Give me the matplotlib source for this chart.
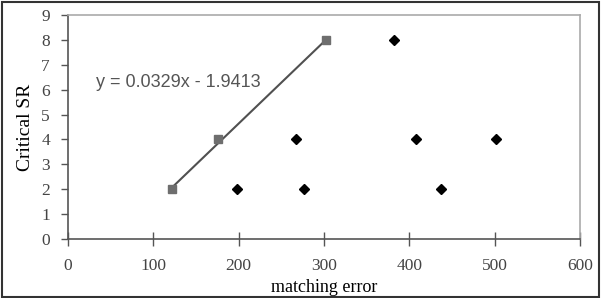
import matplotlib
matplotlib.use('Agg')
import matplotlib.pyplot as plt
from matplotlib.patches import Rectangle

# trend series (squares)
fit_x = [122, 176, 302]
fit_y = [2, 4, 8]
# other points (diamonds)
other_x = [198, 267, 276, 382, 408, 437, 501]
other_y = [2, 4, 2, 8, 4, 2, 4]

slope = 0.0329
intercept = -1.9413

fig = plt.figure(figsize=(6.04, 2.98), dpi=100)
ax = fig.add_axes([68/604, 59/298, 512/604, 224/298])

line_x = [min(fit_x), max(fit_x)]
line_y = [slope * v + intercept for v in line_x]
ax.plot(line_x, line_y, color='#505050', lw=1.5, zorder=2)
ax.plot(fit_x, fit_y, 's', color='#6e6e6e', ms=6, zorder=3)
ax.plot(other_x, other_y, 'D', color='black', ms=5, zorder=3)

ax.text(33, 6.3, 'y = 0.0329x - 1.9413', family='Liberation Sans', fontsize=13,
        color='#555555', va='center', ha='left')

ax.set_xlim(0, 600)
ax.set_ylim(0, 9)
ax.set_xticks(range(0, 700, 100))
ax.set_yticks(range(0, 10))

for s in ['left', 'bottom']:
    ax.spines[s].set_color('#555555')
    ax.spines[s].set_linewidth(1.2)
for s in ['top', 'right']:
    ax.spines[s].set_color('#aaaaaa')
    ax.spines[s].set_linewidth(1.2)

ax.tick_params(axis='x', direction='inout', length=10, width=1, color='#555555',
               pad=9, labelsize=12.5, labelcolor='#444444')
ax.tick_params(axis='y', direction='out', length=5, width=1, color='#555555',
               pad=8, labelsize=12.5, labelcolor='#444444')
for lab in ax.get_xticklabels() + ax.get_yticklabels():
    lab.set_family('Liberation Serif')

ax.set_xlabel('matching error', family='Liberation Serif', fontsize=13, labelpad=3)
ax.set_ylabel('Critical SR', family='Liberation Serif', fontsize=14, labelpad=5)

fig.patches.append(Rectangle((1.5/604, 1.5/298), 597/604, 295/298, transform=fig.transFigure,
                             fill=False, edgecolor='#333333', lw=1.5))

fig.savefig('out.png', dpi=100)
